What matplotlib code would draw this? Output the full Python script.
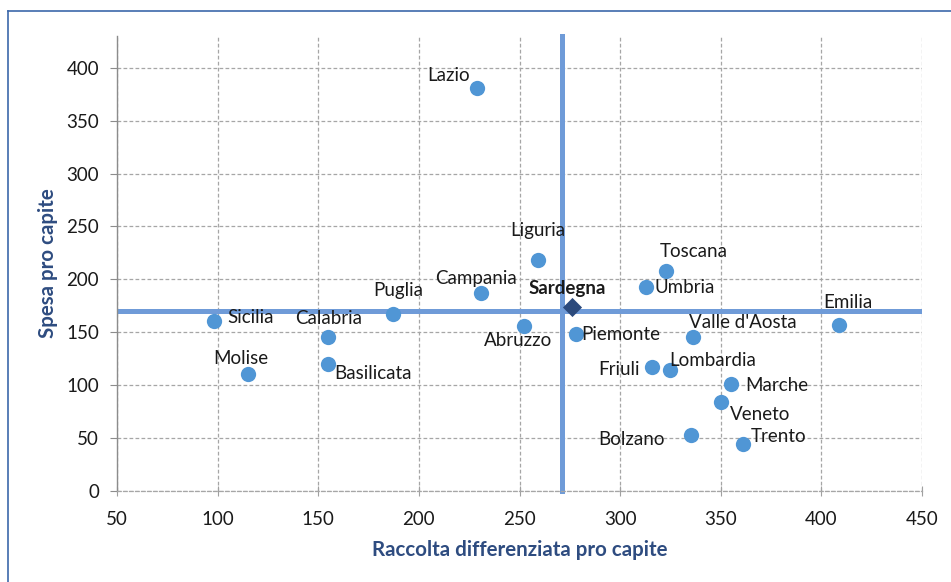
import matplotlib.pyplot as plt
from matplotlib.lines import Line2D

# data
regions = ['Lazio', 'Liguria', 'Campania', 'Toscana', 'Umbria', 'Emilia',
           'Abruzzo', 'Piemonte', "Valle d'Aosta", 'Friuli', 'Lombardia',
           'Marche', 'Veneto', 'Bolzano', 'Trento', 'Sicilia', 'Calabria',
           'Basilicata', 'Molise', 'Puglia']
raccolta = [229, 259, 231, 323, 313, 409, 252, 278, 336, 316, 325,
            355, 350, 335, 361, 98, 155, 155, 115, 187]
spesa = [381, 218, 187, 208, 193, 157, 156, 148, 146, 117, 114,
         101, 84, 53, 44, 161, 146, 120, 111, 167]

sardegna_raccolta = 276
sardegna_spesa = 174
media_raccolta = 271
media_spesa = 170

x_ticks = [50, 100, 150, 200, 250, 300, 350, 400, 450]
y_ticks = [0, 50, 100, 150, 200, 250, 300, 350, 400]

# label offsets in pixels (dx, dy up)
label_off = {
    'Lazio': (-29, 12), 'Liguria': (0, 30), 'Campania': (-5, 15),
    'Toscana': (27, 19), 'Umbria': (38, -1), 'Emilia': (8, 22),
    'Abruzzo': (-5, -15), 'Piemonte': (45, 0), "Valle d'Aosta": (50, 14),
    'Friuli': (-33, -2), 'Lombardia': (42, 10), 'Marche': (46, -1),
    'Veneto': (39, -12), 'Bolzano': (-59, -5), 'Trento': (36, 8),
    'Sicilia': (37, 3), 'Calabria': (0, 18), 'Basilicata': (45, -9),
    'Molise': (-7, 15), 'Puglia': (6, 24),
}

plt.rcParams['font.family'] = ['Lato', 'DejaVu Sans']

fig = plt.figure(figsize=(9.51, 5.82), dpi=100)
ax = fig.add_axes([117 / 951, 1 - 491 / 582, 805 / 951, 455 / 582])

ax.set_xlim(50, 450)
ax.set_ylim(0, 430)
ax.set_xticks(x_ticks)
ax.set_yticks(y_ticks)

dash = (0, (3, 1.8))
ax.grid(True, color='#a6a6a6', linewidth=0.9, linestyle=dash)
ax.set_axisbelow(True)

for s in ['top', 'right']:
    ax.spines[s].set_visible(False)
ax.spines['left'].set_color('#8c8c8c')
ax.spines['left'].set_linewidth(1.0)
# bottom axis is drawn as a dashed line, like the gridlines
ax.spines['bottom'].set_color('#a6a6a6')
ax.spines['bottom'].set_linewidth(0.9)
ax.spines['bottom'].set_linestyle(dash)

ax.tick_params(axis='x', direction='inout', length=7, color='#a0a0a0',
               labelsize=13.5, pad=11, labelcolor='#1a1a1a')
ax.tick_params(axis='y', direction='out', length=5, color='#8c8c8c',
               labelsize=13.5, pad=8, labelcolor='#1a1a1a')

# average lines
ax.axvline(media_raccolta, color='#6f9bd8', linewidth=3.6, zorder=2, clip_on=False)
ax.axhline(media_spesa, color='#6f9bd8', linewidth=3.6, zorder=2)

ax.scatter(raccolta, spesa, s=121, color='#5096d5', zorder=3, linewidths=0)
ax.scatter([sardegna_raccolta], [sardegna_spesa], marker='D', s=95,
           color='#2c4a7c', zorder=4, linewidths=0)

for name, xv, yv in zip(regions, raccolta, spesa):
    dx, dy = label_off[name]
    ax.annotate(name, (xv, yv), xytext=(dx, dy), textcoords='offset pixels',
                ha='center', va='center', fontsize=13.5, color='#1a1a1a', zorder=5)

ax.annotate('Sardegna', (sardegna_raccolta, sardegna_spesa), xytext=(-5, 18),
            textcoords='offset pixels', ha='center', va='center',
            fontsize=13.5, fontweight='bold', color='#1a1a1a', zorder=5)

title_color = '#2e4c80'
ax.set_xlabel('Raccolta differenziata pro capite', fontsize=14.8,
              fontweight='bold', color=title_color)
ax.set_ylabel('Spesa pro capite', fontsize=14.8, fontweight='bold', color=title_color)
ax.xaxis.set_label_coords(0.5, -0.13)
ax.xaxis.label.set_va('center')
ax.yaxis.set_label_coords(-0.086, 0.5)
ax.yaxis.label.set_va('center')

# outer chart frame (only top and left edges are in view)
fx = 7.5 / 951
fy = 1 - 11 / 582
fig.add_artist(Line2D([fx, fx], [0, fy], color='#3c68aa', linewidth=1.2))
fig.add_artist(Line2D([fx, 1], [fy, fy], color='#3c68aa', linewidth=1.2))

fig.savefig('out.png', dpi=100)
